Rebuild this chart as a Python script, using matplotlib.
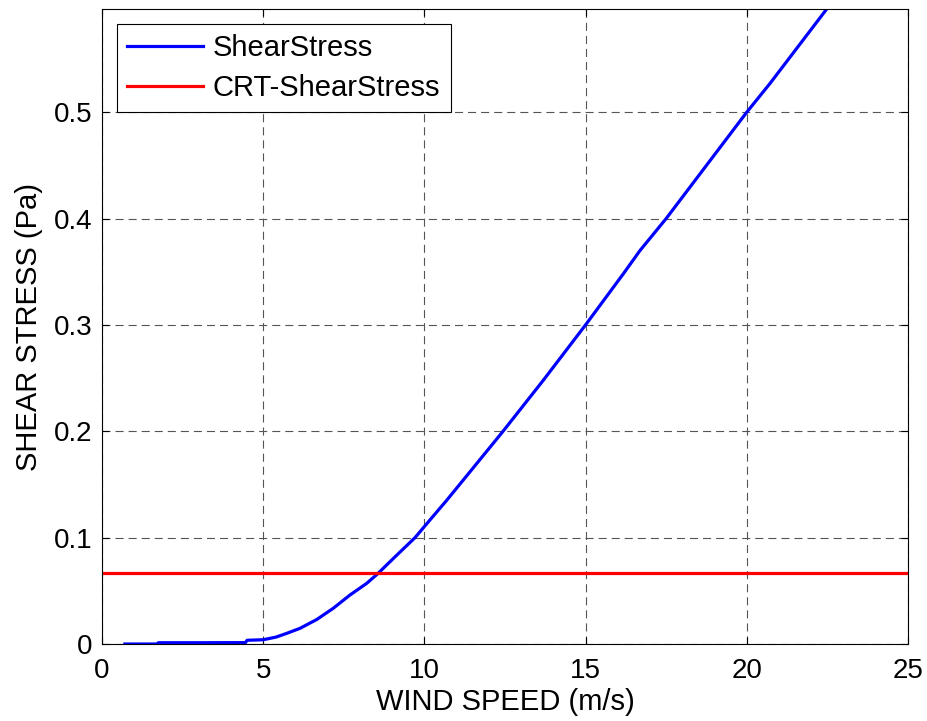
import matplotlib
matplotlib.use("Agg")
import matplotlib.pyplot as plt

plt.rcParams['font.family'] = ['Liberation Sans', 'DejaVu Sans']
plt.rcParams['lines.scale_dashes'] = False

# Wind speed (m/s) and resulting shear stress (Pa)
wind_speed = [0.71, 1.70, 1.75, 3.0, 4.45, 4.5, 5.0, 5.4, 5.73, 6.14, 6.66, 7.17,
              7.69, 8.21, 8.55, 9.04, 9.71, 10.17, 10.69, 11.31, 12.44, 13.69,
              15.0, 16.17, 16.69, 17.5, 20.0, 20.72, 22.48, 23.0]
shear_stress = [0.0, 0.0, 0.0012, 0.0012, 0.0013, 0.0035, 0.004, 0.0065, 0.010,
                0.0147, 0.023, 0.0335, 0.046, 0.057, 0.066, 0.0805, 0.100,
                0.1165, 0.135, 0.158, 0.200, 0.248, 0.300, 0.348, 0.370, 0.400,
                0.500, 0.527, 0.597, 0.617]

# Critical shear stress threshold (Pa)
crt_shear_stress = 0.0665

x_ticks = [0, 5, 10, 15, 20, 25]
y_ticks = [0, 0.1, 0.2, 0.3, 0.4, 0.5]

fig = plt.figure(figsize=(9.28, 7.21), dpi=100)
ax = fig.add_axes([0.1099, 0.1068, 0.8685, 0.8807])

ax.plot(wind_speed, shear_stress, color='#0000ff', linewidth=2.3, label='ShearStress')
ax.axhline(crt_shear_stress, color='#ff0000', linewidth=2.3, label='CRT-ShearStress')

ax.set_xlim(0, 25)
ax.set_ylim(0, 0.597)
ax.set_xticks(x_ticks)
ax.set_xticklabels([str(t) for t in x_ticks])
ax.set_yticks(y_ticks)
ax.set_yticklabels(['0', '0.1', '0.2', '0.3', '0.4', '0.5'])

ax.grid(True, color='#555555', linestyle=(0, (5.8, 3.6)), linewidth=0.8)
ax.tick_params(direction='in', length=5, width=0.8, top=True, right=True,
               labelsize=20, colors='black')
ax.tick_params(axis='x', pad=10)
ax.tick_params(axis='y', pad=7)
for s in ax.spines.values():
    s.set_linewidth(0.8)
    s.set_color('black')

ax.set_xlabel('WIND SPEED (m/s)', fontsize=21, labelpad=3)
ax.set_ylabel('SHEAR STRESS (Pa)', fontsize=21, labelpad=8)

leg = ax.legend(loc='upper left', fontsize=21, handlelength=2.6, handletextpad=0.35,
                borderpad=0.35, labelspacing=0.42, fancybox=False, framealpha=1,
                edgecolor='black', borderaxespad=0.5)
leg.get_frame().set_linewidth(0.8)

fig.savefig('out.png', dpi=100, facecolor='white')
